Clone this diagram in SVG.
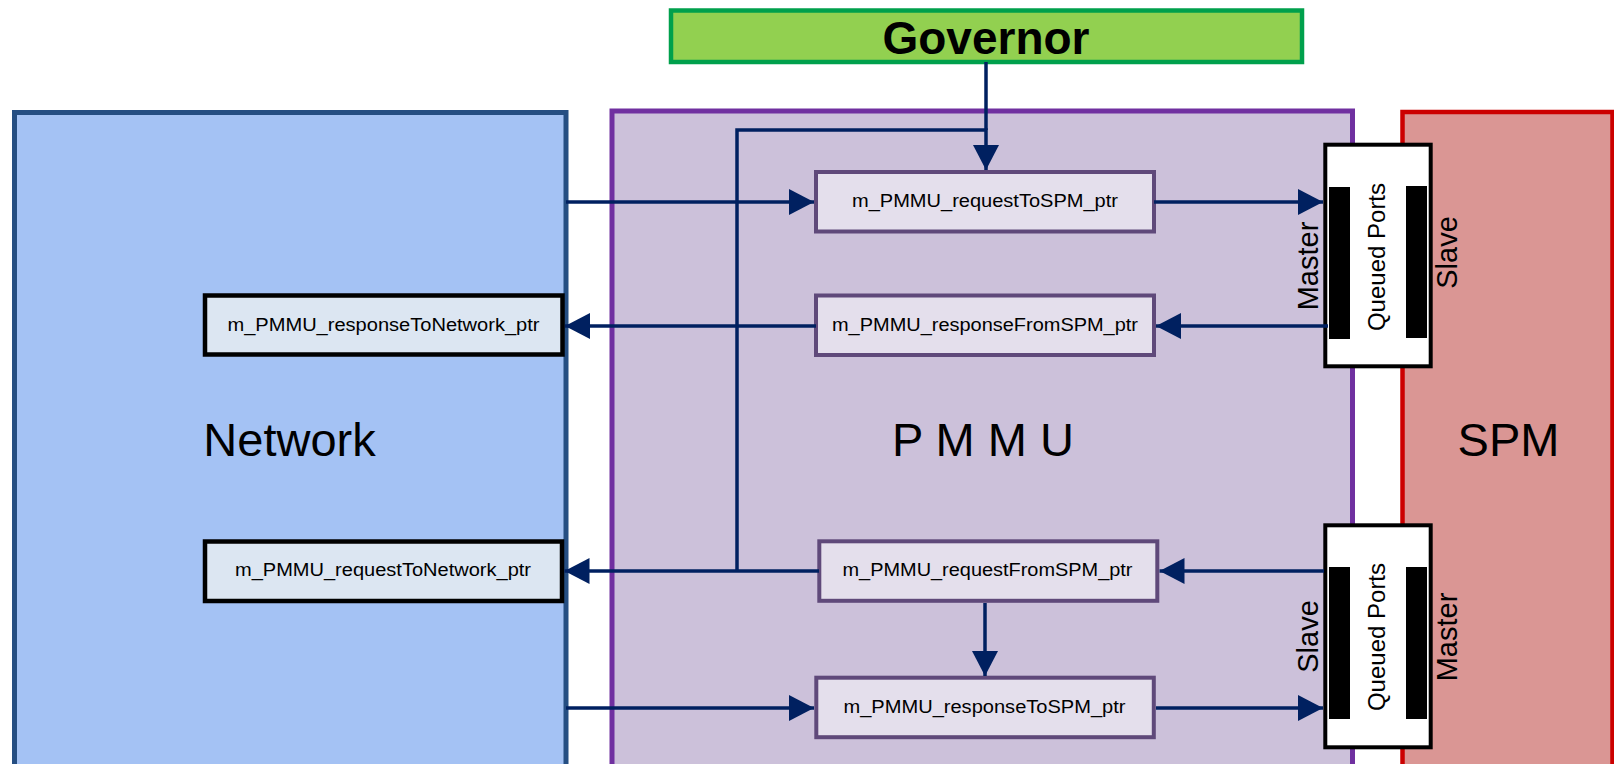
<svg xmlns="http://www.w3.org/2000/svg" width="1614" height="764" viewBox="0 0 1614 764">
  <style>
    .lbl { font-family: "Liberation Sans", Arial, sans-serif; fill: #000; }
    .big { font-size: 47px; text-anchor: middle; }
    .ptr { font-size: 18px; text-anchor: middle; }
    .side { font-size: 29px; text-anchor: middle; }
    .qp { font-size: 24px; text-anchor: middle; }
    .pmmuBox { fill: #e4dfec; stroke: #5f497a; stroke-width: 4; }
    .netBox { fill: #dce6f2; stroke: #000; stroke-width: 4.5; }
    .qBox { fill: #fff; stroke: #000; stroke-width: 4; }
    .bar { fill: #000; }
    .wire { fill: none; stroke: #002060; stroke-width: 3.5; }
  </style>
  <defs>
    <marker id="arrow" markerUnits="userSpaceOnUse" viewBox="0 0 25 26" markerWidth="25" markerHeight="26" refX="25" refY="13" orient="auto">
      <path d="M0,0 L25,13 L0,26 z" fill="#002060"/>
    </marker>
  </defs>

  <rect width="1614" height="764" fill="#fff"/>

  <!-- Containers -->
  <g id="network">
    <rect x="14.5" y="112.5" width="551.5" height="700" fill="#a4c2f4" stroke="#254e82" stroke-width="5"/>
    <text class="lbl big" x="289.5" y="456">Network</text>
  </g>
  <g id="pmmu">
    <rect x="612" y="111" width="740.5" height="700" fill="#ccc1da" stroke="#7030a0" stroke-width="5"/>
    <text class="lbl big" x="983" y="456">P M M U</text>
  </g>
  <g id="spm">
    <rect x="1402.5" y="112" width="210" height="700" fill="#da9694" stroke="#cc0000" stroke-width="4.5"/>
    <text class="lbl big" x="1508.5" y="456">SPM</text>
  </g>
  <g id="governor">
    <rect x="671" y="10.5" width="631" height="51.5" fill="#92d050" stroke="#00a04c" stroke-width="4.5"/>
    <text class="lbl" x="986" y="53.5" font-size="46" font-weight="bold" text-anchor="middle">Governor</text>
  </g>

  <!-- Buffers inside the PMMU -->
  <g id="requestToSPM">
    <rect class="pmmuBox" x="816" y="172" width="338" height="59.5"/>
    <text class="lbl ptr" x="985" y="207" textLength="266" lengthAdjust="spacingAndGlyphs">m_PMMU_requestToSPM_ptr</text>
  </g>
  <g id="responseFromSPM">
    <rect class="pmmuBox" x="816" y="295.5" width="338" height="59.5"/>
    <text class="lbl ptr" x="985" y="330.5" textLength="306" lengthAdjust="spacingAndGlyphs">m_PMMU_responseFromSPM_ptr</text>
  </g>
  <g id="requestFromSPM">
    <rect class="pmmuBox" x="819.3" y="541.3" width="338" height="59.5"/>
    <text class="lbl ptr" x="987.5" y="576" textLength="290" lengthAdjust="spacingAndGlyphs">m_PMMU_requestFromSPM_ptr</text>
  </g>
  <g id="responseToSPM">
    <rect class="pmmuBox" x="816.3" y="677.7" width="337.5" height="59.5"/>
    <text class="lbl ptr" x="984.5" y="712.5" textLength="282" lengthAdjust="spacingAndGlyphs">m_PMMU_responseToSPM_ptr</text>
  </g>

  <!-- Buffers inside the Network -->
  <g id="responseToNetwork">
    <rect class="netBox" x="205" y="295.5" width="357.5" height="59"/>
    <text class="lbl ptr" x="383.5" y="330.5" textLength="312" lengthAdjust="spacingAndGlyphs">m_PMMU_responseToNetwork_ptr</text>
  </g>
  <g id="requestToNetwork">
    <rect class="netBox" x="205" y="541.5" width="357" height="59.5"/>
    <text class="lbl ptr" x="383" y="576" textLength="296" lengthAdjust="spacingAndGlyphs">m_PMMU_requestToNetwork_ptr</text>
  </g>

  <!-- Queued port pairs between PMMU and SPM -->
  <g id="queuedPortsTop">
    <rect class="qBox" x="1325.3" y="144.7" width="105.4" height="221.6"/>
    <rect class="bar" x="1329" y="187" width="21" height="152"/>
    <rect class="bar" x="1406" y="186" width="21" height="152"/>
    <text class="lbl qp" transform="translate(1385,257) rotate(-90)">Queued Ports</text>
    <text class="lbl side" transform="translate(1318,266) rotate(-90)">Master</text>
    <text class="lbl side" transform="translate(1456.5,252.5) rotate(-90)">Slave</text>
  </g>
  <g id="queuedPortsBottom">
    <rect class="qBox" x="1325.3" y="525.3" width="105.4" height="222"/>
    <rect class="bar" x="1329" y="567" width="21" height="152"/>
    <rect class="bar" x="1406" y="567" width="21" height="152"/>
    <text class="lbl qp" transform="translate(1385,637) rotate(-90)">Queued Ports</text>
    <text class="lbl side" transform="translate(1318,636.5) rotate(-90)">Slave</text>
    <text class="lbl side" transform="translate(1456.5,637) rotate(-90)">Master</text>
  </g>

  <!-- Connectors -->
  <g id="connectors" class="wire">
    <path class="wire" d="M566,202 H814" marker-end="url(#arrow)"/>
    <path class="wire" d="M1154,202 H1323" marker-end="url(#arrow)"/>
    <path class="wire" d="M1328,326 H1156" marker-end="url(#arrow)"/>
    <path class="wire" d="M816,326 H565" marker-end="url(#arrow)"/>
    <path class="wire" d="M986,62 V130"/>
    <path class="wire" d="M737,571 V130 H986 V170" marker-end="url(#arrow)"/>
    <path class="wire" d="M819,571 H564.5" marker-end="url(#arrow)"/>
    <path class="wire" d="M1324,571 H1159.5" marker-end="url(#arrow)"/>
    <path class="wire" d="M985,603 V676" marker-end="url(#arrow)"/>
    <path class="wire" d="M566,708 H814" marker-end="url(#arrow)"/>
    <path class="wire" d="M1156,708 H1323" marker-end="url(#arrow)"/>
  </g>
</svg>
